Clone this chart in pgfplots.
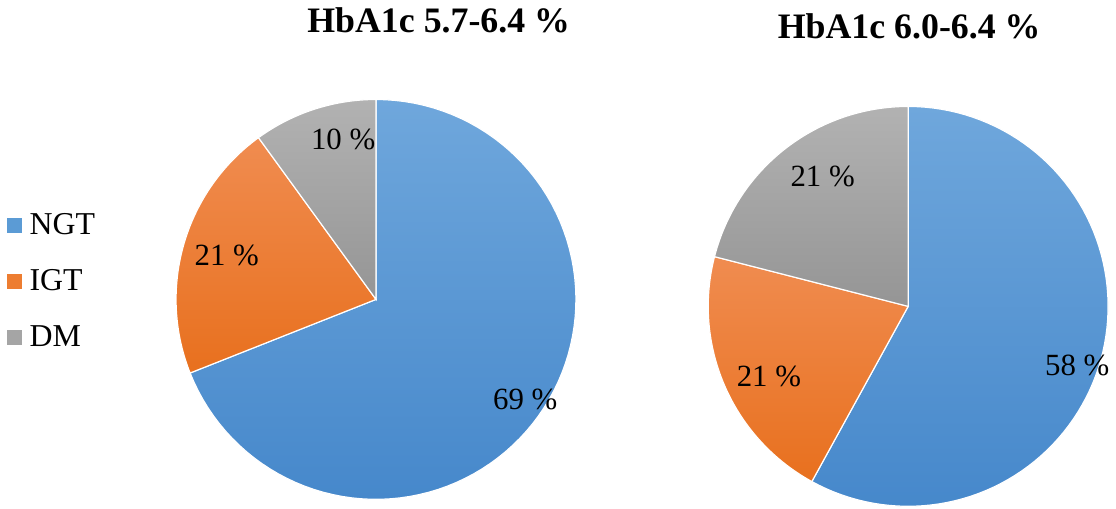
\documentclass[border=0pt]{standalone}
\usepackage{pgfplots}
\pgfplotsset{compat=1.18}
\usepackage{fontspec}
\setmainfont{Liberation Serif}
\definecolor{ngtT}{HTML}{6FA7DC}
\definecolor{ngtB}{HTML}{4688CB}
\definecolor{igtT}{HTML}{F08C50}
\definecolor{igtB}{HTML}{E8701E}
\definecolor{dmT}{HTML}{B2B2B2}
\definecolor{dmB}{HTML}{959595}
\definecolor{ngtL}{HTML}{5B9BD5}
\definecolor{igtL}{HTML}{ED7D31}
\definecolor{dmL}{HTML}{A5A5A5}
% data (percent)
\def\Lngt{69}\def\Ligt{21}\def\Ldm{10}
\def\Rngt{58}\def\Rigt{21}\def\Rdm{21}
\newcommand{\slice}[6]{%
  \addplot[draw=white, line width=0.6pt, top color=#5, bottom color=#6,
    domain=#3:#4, samples=90, variable=\t, forget plot]
    ({#1+201*cos(\t)},{#2+201*sin(\t)}) -- (axis cs:#1,#2) -- cycle;}
\begin{document}
\begin{tikzpicture}
\pgfmathsetmacro\La{90-3.6*\Lngt}
\pgfmathsetmacro\Lb{\La-3.6*\Ligt}
\pgfmathsetmacro\Lc{\Lb-3.6*\Ldm}
\pgfmathsetmacro\Ra{90-3.6*\Rngt}
\pgfmathsetmacro\Rb{\Ra-3.6*\Rigt}
\pgfmathsetmacro\Rc{\Rb-3.6*\Rdm}
\begin{axis}[
  scale only axis, width=558pt, height=255.5pt,
  xmin=0, xmax=1116, ymin=0, ymax=511,
  hide axis, clip=false,
  legend style={at={(axis cs:7,228)}, anchor=west, draw=none, fill=none,
    font=\fontsize{16pt}{19pt}\selectfont, row sep=12pt, inner sep=0pt},
  legend cell align=left,
  legend image code/.code={\fill[#1,draw=none] (0pt,-3.75pt) rectangle (7.5pt,3.75pt); \path (9pt,0pt);},
]
\path (axis cs:0,0) rectangle (axis cs:1116,511);
% left pie
\slice{378}{210}{\La}{90}{ngtT}{ngtB}
\slice{378}{210}{\Lb}{\La}{igtT}{igtB}
\slice{378}{210}{\Lc}{\Lb}{dmT}{dmB}
% right pie
\slice{913}{203}{\Ra}{90}{ngtT}{ngtB}
\slice{913}{203}{\Rb}{\Ra}{igtT}{igtB}
\slice{913}{203}{\Rc}{\Rb}{dmT}{dmB}
\addlegendimage{fill=ngtL}\addlegendentry{NGT}
\addlegendimage{fill=igtL}\addlegendentry{IGT}
\addlegendimage{fill=dmL}\addlegendentry{DM}
\begin{scope}[every node/.style={font=\fontsize{15.5pt}{18pt}\selectfont}]
\node at (axis cs:345,371) {\Ldm\ \%};
\node at (axis cs:228,254) {\Ligt\ \%};
\node at (axis cs:528,109) {\Lngt\ \%};
\node at (axis cs:827,334) {\Rdm\ \%};
\node at (axis cs:773,133) {\Rigt\ \%};
\node at (axis cs:1083,144) {\Rngt\ \%};
\end{scope}
\node[anchor=base, font=\fontsize{18pt}{21pt}\selectfont\bfseries] at (axis cs:441,478) {HbA1c 5.7-6.4 \%};
\node[anchor=base, font=\fontsize{18pt}{21pt}\selectfont\bfseries] at (axis cs:914,472) {HbA1c 6.0-6.4 \%};
\end{axis}
\end{tikzpicture}
\end{document}
